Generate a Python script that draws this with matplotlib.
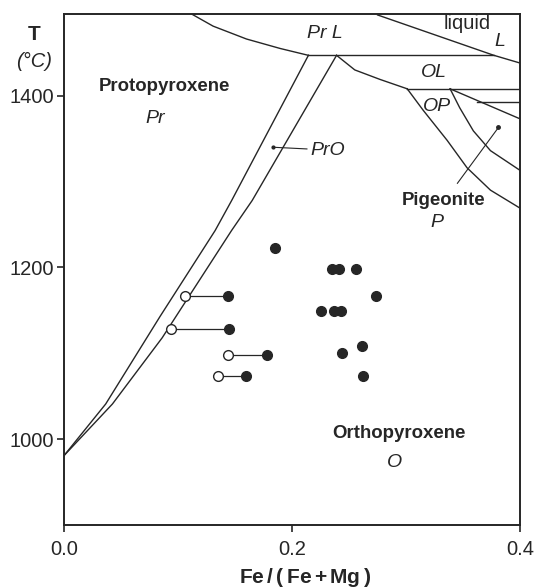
import matplotlib
matplotlib.use('Agg')
import matplotlib.pyplot as plt

plt.rcParams['font.family'] = ['Liberation Sans', 'DejaVu Sans']

# phase boundaries (x = Fe/(Fe+Mg), T in degC)
pro_left_x = [0.0, 0.0365, 0.0842, 0.1325, 0.147, 0.2143]
pro_left_T = [981, 1041, 1143, 1243, 1278, 1447]
pro_right_x = [0.0, 0.0424, 0.0860, 0.1469, 0.165, 0.239]
pro_right_T = [981, 1041, 1118, 1243, 1278, 1447]

prl_x = [0.112, 0.1307, 0.160, 0.1895, 0.2143]
prl_T = [1495, 1481, 1466, 1455, 1447]
ol_x = [0.239, 0.255, 0.277, 0.301]
ol_T = [1447, 1430, 1419, 1408]
liq_x = [0.275, 0.377, 0.4]
liq_T = [1494, 1447, 1438]
h1_x = [0.2143, 0.377]
h1_T = [1447, 1447]
h2_x = [0.301, 0.4]
h2_T = [1408, 1408]
opA_x = [0.301, 0.315, 0.336, 0.3535, 0.374, 0.4]
opA_T = [1408, 1383, 1348, 1316, 1290, 1269]
opB_x = [0.3386, 0.347, 0.359, 0.374, 0.4]
opB_T = [1408, 1386, 1359, 1336, 1313]
opC_x = [0.3386, 0.4]
opC_T = [1408, 1373]
h3_x = [0.362, 0.4]
h3_T = [1393, 1393]

# experimental points
filled_x = [0.185, 0.235, 0.241, 0.256, 0.274, 0.144, 0.225, 0.237, 0.243,
            0.145, 0.178, 0.261, 0.244, 0.160, 0.262]
filled_T = [1223, 1198, 1198, 1198, 1167, 1167, 1149, 1149, 1149,
            1128, 1098, 1108, 1100, 1074, 1074]
open_x = [0.106, 0.094, 0.144, 0.135]
open_T = [1167, 1128, 1098, 1074]
pair_filled_x = [0.144, 0.145, 0.178, 0.160]

c = '#262626'
fig = plt.figure(figsize=(5.34, 5.88), dpi=100)
ax = fig.add_axes([0.120, 0.107, 0.854, 0.869])

for xs, ts in [(pro_left_x, pro_left_T), (pro_right_x, pro_right_T),
               (prl_x, prl_T), (ol_x, ol_T), (liq_x, liq_T), (h1_x, h1_T),
               (h2_x, h2_T), (opA_x, opA_T), (opB_x, opB_T), (opC_x, opC_T),
               (h3_x, h3_T)]:
    ax.plot(xs, ts, color=c, lw=1.0)

for xo, xf, t in zip(open_x, pair_filled_x, open_T):
    ax.plot([xo, xf], [t, t], color=c, lw=0.9, zorder=2)
ax.plot(filled_x, filled_T, 'o', color=c, ms=7, zorder=3)
ax.plot(open_x, open_T, 'o', mfc='white', mec=c, mew=1.0, ms=7, zorder=3)

# leaders
ax.plot([0.183, 0.213], [1340, 1338], color=c, lw=0.8)
ax.plot([0.183], [1340], 'o', color=c, ms=2)
ax.plot([0.345, 0.381], [1298, 1363], color=c, lw=0.8)
ax.plot([0.381], [1363], 'o', color=c, ms=2.5)

# labels
bold = dict(fontsize=13.4, fontweight='bold', ha='center', va='center', color=c)
ital = dict(fontsize=14, style='italic', ha='center', va='center', color=c)
ax.text(0.088, 1411, 'Protopyroxene', **bold)
ax.text(0.080, 1374, 'Pr', **ital)
ax.text(0.229, 1473, 'Pr L', **ital)
ax.text(0.3535, 1484, 'liquid', fontsize=14.5, ha='center', va='center', color=c)
ax.text(0.3825, 1463, 'L', **ital)
ax.text(0.3246, 1427, 'OL', **ital)
ax.text(0.327, 1387, 'OP', **ital)
ax.text(0.2316, 1336, 'PrO', **ital)
ax.text(0.3325, 1278, 'Pigeonite', **bold)
ax.text(0.327, 1252, 'P', **ital)
ax.text(0.294, 1007, 'Orthopyroxene', **bold)
ax.text(0.290, 973, 'O', **ital)

ax.text(-0.066, 0.961, 'T', transform=ax.transAxes, fontsize=15, fontweight='bold', ha='center', va='center', color=c)
ax.text(-0.066, 0.908, '(°C)', transform=ax.transAxes, fontsize=14.5, style='italic', ha='center', va='center', color=c)
ax.text(0.528, -0.102, 'Fe$\\,$/$\\,$($\\,$Fe$\\,$+$\\,$Mg$\\,$)', transform=ax.transAxes,
        fontsize=15, fontweight='bold', ha='center', va='center', color=c)

ax.set_xlim(0, 0.4)
ax.set_ylim(900, 1495)
ax.set_xticks([0.0, 0.2, 0.4])
ax.set_xticklabels(['0.0', '0.2', '0.4'])
ax.set_yticks([1000, 1200, 1400])
ax.tick_params(direction='out', length=5, width=1.2, labelsize=14.5, colors=c)
ax.tick_params(axis='x', pad=6)
ax.tick_params(axis='y', pad=2)
for s in ax.spines.values():
    s.set_linewidth(1.4)
    s.set_color(c)

fig.savefig('out.png', dpi=100)
